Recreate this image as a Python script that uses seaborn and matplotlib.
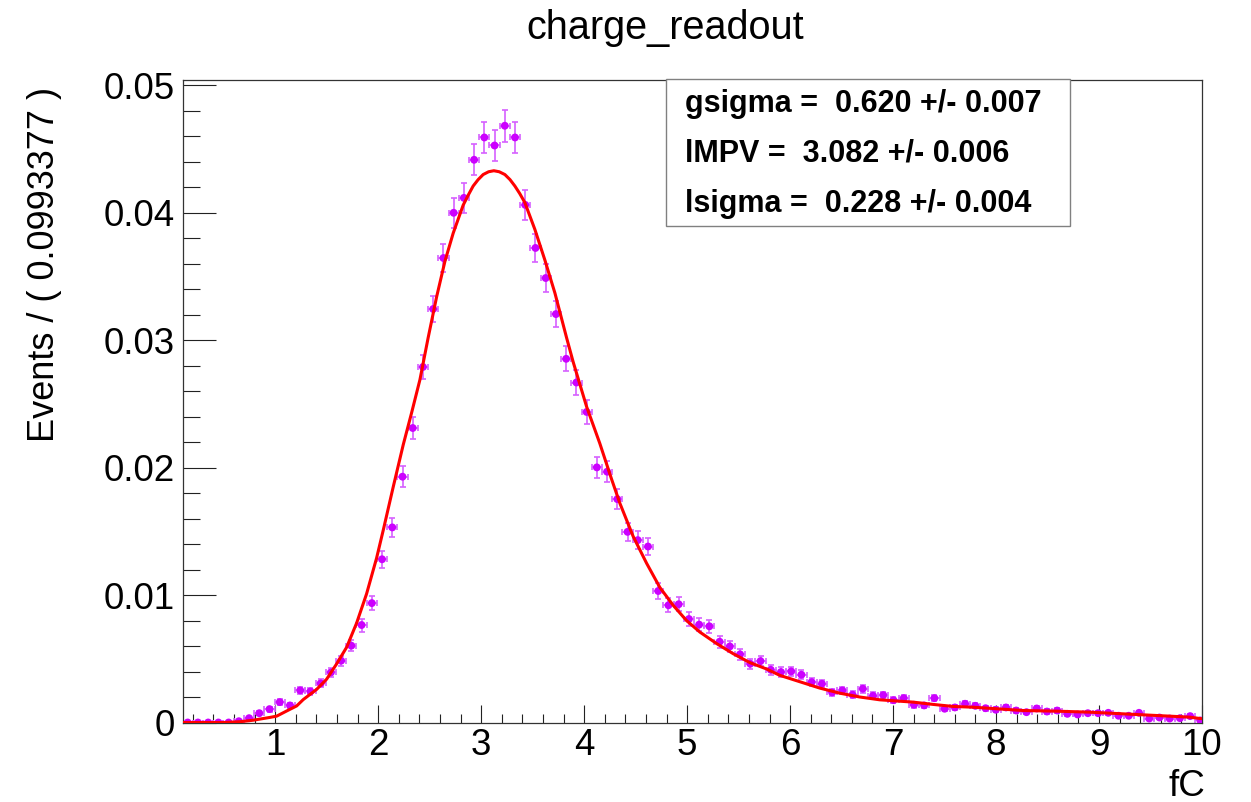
import numpy as np
import pandas as pd
import matplotlib
matplotlib.use("Agg")
import matplotlib.pyplot as plt
import seaborn as sns
from matplotlib.ticker import MultipleLocator, FuncFormatter
from matplotlib.patches import Rectangle

# ---------------- data ----------------
bin_low = 0.1
bin_width = 0.0993377

events = [0, 0, 0, 0, 0, 0.0001, 0.00034, 0.00073, 0.00105, 0.0016,
          0.00134, 0.00252, 0.00244, 0.00307, 0.00393, 0.00485, 0.00603, 0.00765, 0.00937, 0.01281,
          0.01531, 0.01929, 0.02311, 0.0279, 0.03245, 0.03645, 0.0400, 0.04117, 0.04416, 0.04591,
          0.04528, 0.04683, 0.04591, 0.04062, 0.03724, 0.03488, 0.03205, 0.02854, 0.02668, 0.02437,
          0.02002, 0.01968, 0.01753, 0.01496, 0.01431, 0.01381, 0.01032, 0.0092, 0.00928, 0.00812,
          0.00768, 0.00755, 0.00634, 0.00597, 0.00535, 0.00461, 0.00482, 0.00414, 0.00396, 0.00401,
          0.00375, 0.00317, 0.00304, 0.00236, 0.00252, 0.00218, 0.00265, 0.0021, 0.00215, 0.00175,
          0.00191, 0.00139, 0.00134, 0.00191, 0.00108, 0.00118, 0.00147, 0.00131, 0.00112, 0.00100,
          0.00118, 0.00094, 0.00081, 0.0011, 0.00086, 0.00094, 0.00068, 0.00063, 0.00073, 0.00073,
          0.00076, 0.00053, 0.00053, 0.00076, 0.00031, 0.00039, 0.00031, 0.00034, 0.0005, 0.00016]

# fitted curve (Landau x Gauss), read point by point
curve_x = [0.107, 0.5, 0.657, 0.786, 0.949, 1.014, 1.110, 1.208, 1.272, 1.402, 1.499, 1.596,
           1.693, 1.790, 1.887, 1.984,
           2.049, 2.146, 2.243, 2.324, 2.405, 2.485, 2.567, 2.648, 2.728, 2.825, 2.875, 2.922,
           2.970, 3.019, 3.072, 3.123, 3.175, 3.230, 3.280, 3.327, 3.375, 3.424, 3.521, 3.618,
           3.716, 3.829, 3.893, 4.023,
           4.152, 4.266, 4.347, 4.476, 4.606, 4.735, 4.864, 4.994, 5.123, 5.285, 5.447,
           5.609, 5.771, 5.900, 6.094, 6.288, 6.483, 6.677, 6.871, 7.194, 7.388, 7.583,
           7.777, 8.004, 8.262, 8.587, 8.910, 9.233, 9.557, 9.881, 9.994]
curve_y = [0.0, 0.0, 0.00006, 0.00018, 0.0004, 0.0005, 0.0009, 0.0013, 0.0018, 0.0026, 0.0034, 0.0046,
           0.0059, 0.0078, 0.0101, 0.0129,
           0.0151, 0.0185, 0.0218, 0.0243, 0.0269, 0.0302, 0.0334, 0.0362, 0.0384, 0.0406, 0.0414, 0.0421,
           0.0426, 0.0430, 0.04322, 0.0433, 0.04322, 0.0430, 0.0426, 0.0421, 0.0415, 0.0408, 0.0387, 0.0363,
           0.0337, 0.0302, 0.0283, 0.0248,
           0.0219, 0.0191, 0.0172, 0.0146, 0.0125, 0.0106, 0.0092, 0.0080, 0.0071, 0.0062, 0.0054,
           0.0047, 0.0042, 0.0037, 0.0032, 0.0027, 0.0023, 0.0020, 0.00178, 0.0016, 0.00142, 0.00126,
           0.0012, 0.00108, 0.00094, 0.00089, 0.00081, 0.00068, 0.00055, 0.00042, 0.0003]

err_scale = 0.00582  # Poisson-like error bars: err = scale * sqrt(content)

stats_lines = ["gsigma =  0.620 +/- 0.007",
               "lMPV =  3.082 +/- 0.006",
               "lsigma =  0.228 +/- 0.004"]
title = "charge_readout"
x_label = "fC"
y_label = "Events / ( 0.0993377 )"

# ---------------- style ----------------
sns.set_theme(style="white")
plt.rcParams['font.family'] = ['Liberation Sans', 'DejaVu Sans']
plt.rcParams['text.color'] = 'black'
plt.rcParams['xtick.color'] = 'black'
plt.rcParams['ytick.color'] = 'black'
plt.rcParams['axes.labelcolor'] = 'black'

W, H = 1251, 802
fig = plt.figure(figsize=(W / 100, H / 100), dpi=100)
ax_l, ax_r, ax_t, ax_b = 183.3, 1202.0, 80.0, 722.5
ax = fig.add_axes([ax_l / W, 1 - ax_b / H, (ax_r - ax_l) / W, (ax_b - ax_t) / H])

df = pd.DataFrame({"x": bin_low + (np.arange(len(events)) + 0.5) * bin_width,
                   "y": events})
df["err"] = err_scale * np.sqrt(df["y"])

ax.errorbar(df["x"], df["y"], yerr=df["err"], xerr=bin_width / 2, fmt="none",
            ecolor="#d660ff", elinewidth=1.2, capsize=2, capthick=1.2, zorder=2)
sns.scatterplot(data=df, x="x", y="y", ax=ax, color="#cc00ff", s=32,
                edgecolor="none", linewidth=0, zorder=3)
sns.lineplot(x=curve_x, y=curve_y, ax=ax, color="#ff0000", lw=2.2, zorder=4)

ax.set_xlim(0.107, 10.0)
ax.set_ylim(0.0, 0.05042)
ax.set_xlabel("")
ax.set_ylabel("")

ax.xaxis.set_major_locator(MultipleLocator(1))
ax.xaxis.set_minor_locator(MultipleLocator(0.2))
ax.yaxis.set_major_locator(MultipleLocator(0.01))
ax.yaxis.set_minor_locator(MultipleLocator(0.002))
ax.yaxis.set_major_formatter(FuncFormatter(lambda v, p: "%g" % round(v, 4)))
ax.xaxis.set_major_formatter(FuncFormatter(lambda v, p: "%g" % round(v, 4)))

ax.tick_params(axis="x", which="major", direction="in", length=13, width=0.8,
               color="#222222", labelcolor="black", labelsize=26.5, pad=4, bottom=True, top=False)
ax.tick_params(axis="x", which="minor", direction="in", length=6.5, width=0.8,
               color="#222222", bottom=True, top=False)
ax.tick_params(axis="y", which="major", direction="in", length=23.5, width=0.8,
               color="#222222", labelcolor="black", labelsize=26.5, pad=6, left=True, right=False)
ax.tick_params(axis="y", which="minor", direction="in", length=12, width=0.8,
               color="#222222", left=True, right=False)
for s in ax.spines.values():
    s.set_visible(True)
    s.set_color("#333333")
    s.set_linewidth(0.9)

# title and axis titles
fig.text(665 / W, 1 - 28 / H, title, ha="center", va="center", fontsize=28.5, color="black")
fig.text(1205 / W, 1 - 787 / H, x_label, ha="right", va="center", fontsize=26.5, color="black")
fig.text(45 / W, 1 - 87 / H, y_label, ha="center", va="top", rotation=90, fontsize=26,
         color="black")

# stats box
box = Rectangle((666 / W, 1 - 226 / H), (1070 - 666) / W, (226 - 79) / H,
                transform=fig.transFigure, facecolor="white", edgecolor="#808080",
                linewidth=1.0, zorder=5)
fig.patches.append(box)
for i, line in enumerate(stats_lines):
    fig.text(685 / W, 1 - (104 + 50 * i) / H, line, ha="left", va="center",
             fontsize=22, fontweight="bold", color="black", zorder=6)

fig.savefig("out.png", dpi=100)
